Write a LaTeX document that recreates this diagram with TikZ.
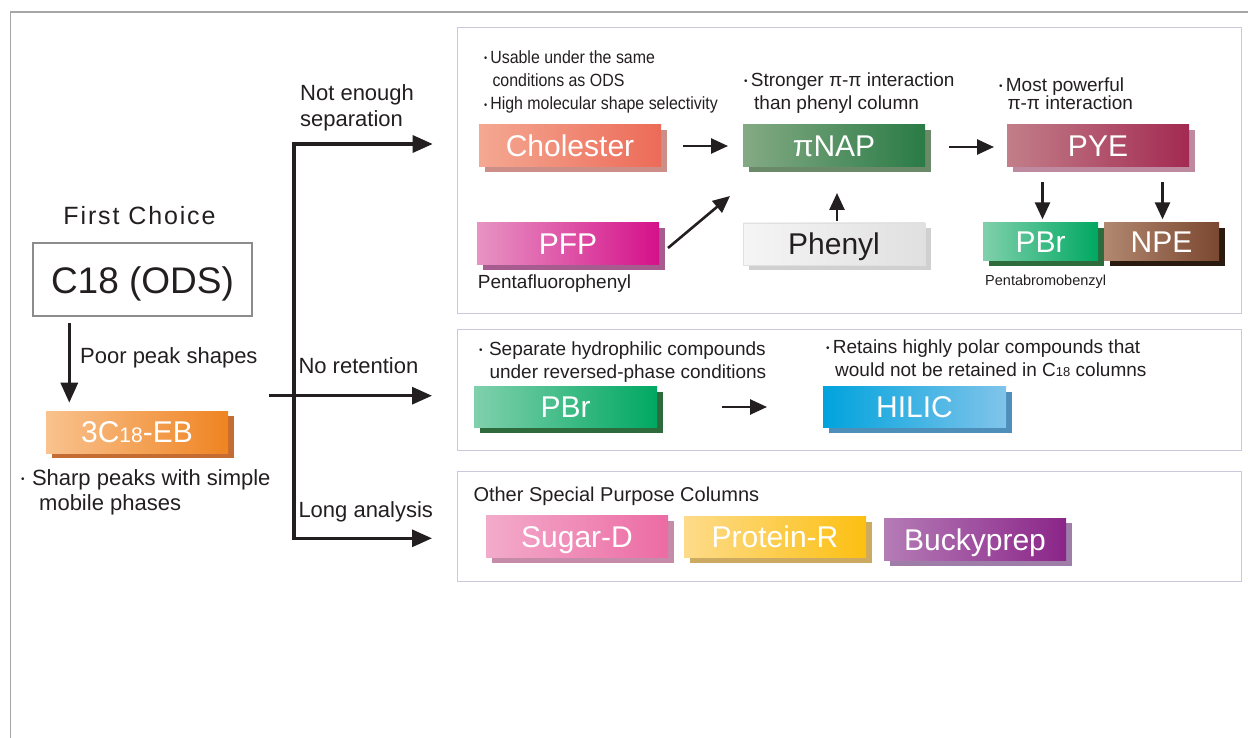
\documentclass[tikz,border=0pt]{standalone}
\usepackage{fontspec}
\setmainfont{Liberation Sans}
\newfontfamily\narrowfont[FakeStretch=0.9]{Liberation Sans}
\usetikzlibrary{arrows.meta,shadows,calc}
\newcommand\bul{\raisebox{0.1em}{\fontsize{10}{10}\selectfont •}}
\definecolor{ink}{HTML}{231F20}
\definecolor{framec}{HTML}{A6A6A6}
\definecolor{panelc}{HTML}{C9C9DC}
\definecolor{boxgray}{HTML}{8C8C8C}
\definecolor{ebL}{HTML}{F9C28E}\definecolor{ebR}{HTML}{EF8422}\definecolor{ebS}{HTML}{C56C32}
\definecolor{chL}{HTML}{F4A892}\definecolor{chR}{HTML}{EC6B58}\definecolor{chS}{HTML}{CB8F88}
\definecolor{piL}{HTML}{84AA84}\definecolor{piR}{HTML}{2A7B45}\definecolor{piS}{HTML}{6A8A6A}
\definecolor{pfL}{HTML}{E794C3}\definecolor{pfR}{HTML}{D5118A}\definecolor{pfS}{HTML}{A65C8E}
\definecolor{phL}{HTML}{F5F5F5}\definecolor{phR}{HTML}{E0E0E0}\definecolor{phS}{HTML}{D0D0D0}
\definecolor{pyL}{HTML}{C27E89}\definecolor{pyR}{HTML}{A32A52}\definecolor{pyS}{HTML}{BD8AA0}
\definecolor{pbL}{HTML}{80D0AC}\definecolor{pbR}{HTML}{00A862}\definecolor{pbS}{HTML}{2D6B3D}
\definecolor{npL}{HTML}{B28870}\definecolor{npR}{HTML}{7B4730}\definecolor{npS}{HTML}{2B1A10}
\definecolor{hiL}{HTML}{00A3DD}\definecolor{hiR}{HTML}{80C4EA}\definecolor{hiS}{HTML}{4D8FB8}
\definecolor{suL}{HTML}{F3ABCB}\definecolor{suR}{HTML}{EC6BA3}\definecolor{suS}{HTML}{C48CA8}
\definecolor{prL}{HTML}{FDDB8A}\definecolor{prR}{HTML}{FCC012}\definecolor{prS}{HTML}{CCAA62}
\definecolor{buL}{HTML}{B47CB6}\definecolor{buR}{HTML}{8B2589}\definecolor{buS}{HTML}{9E7EA8}
\begin{document}
\begin{tikzpicture}[x=1pt,y=-1pt,
  colbox/.style={rectangle, inner sep=0pt, outer sep=0pt, text=white,
    font=\fontsize{30}{30}\selectfont, text height=21.6pt, text depth=0pt},
  sh/.style={drop shadow={shadow xshift=6pt, shadow yshift=-5pt, fill=#1, opacity=1}},
  lbl/.style={anchor=base west, inner sep=0pt, text=ink, font=\fontsize{22}{26}\selectfont},
  ptxt/.style={anchor=base west, inner sep=0pt, text=ink, font=\fontsize{19}{23}\selectfont},
  ntxt/.style={anchor=base west, inner sep=0pt, text=ink, font=\narrowfont\fontsize{17.7}{22}\selectfont},
  bigarr/.style={draw=ink, line width=3.2pt, -{Triangle[length=20pt,width=17pt]}},
  arr/.style={draw=ink, line width=2.6pt, -{Triangle[length=17pt,width=15pt]}},
  panel/.style={draw=panelc, line width=1.3pt, rectangle, inner sep=0pt, anchor=north west},
]
\useasboundingbox (0,0) rectangle (1248,738);
% outer frame
\draw[framec, line width=1.3pt] (1248,12) -- (10.5,12) -- (10.5,738);

% panels
\node[panel, minimum width=784pt, minimum height=286pt] (p1) at (457,27) {};
\node[panel, minimum width=784pt, minimum height=121pt] (p2) at (457,329) {};
\node[panel, minimum width=784pt, minimum height=110pt] (p3) at (457,471) {};

% left part
\node[anchor=base, inner sep=0pt, text=ink, font=\fontsize{25}{25}\selectfont\addfontfeature{LetterSpace=7.5}] (first) at (139.5,225) {First Choice};
\node[draw=boxgray, line width=2pt, minimum width=219pt, minimum height=73pt, inner sep=0pt,
  text=ink, font=\fontsize{37}{37}\selectfont, text height=27pt, text depth=0pt] (c18) at (142.5,279.5) {C18 (ODS)};
\node[colbox, sh=ebS, left color=ebL, right color=ebR, minimum width=182pt, minimum height=42pt] (eb) at (137,432) {3C{\fontsize{21}{21}\selectfont 18}-EB};
\draw[bigarr] ($(c18.south -| eb.north west)+(23.3,6)$) -- ($(eb.north west)+(23.3,-8.3)$);
\node[lbl] (poor) at (80,363.3) {Poor peak shapes};
\node[lbl] (sharp1) at (21,485) {\bul\,\,Sharp peaks with simple};
\node[lbl] (sharp2) at (39,510.7) {mobile phases};

% branches
\coordinate (vtop) at (294,144);
\coordinate (vbot) at (294,538.3);
\coordinate (midstart) at (269,395.7);
\draw[bigarr] (vbot) -- (vtop) -- ($(vtop -| p1.west)+(-24.3,0)$);
\draw[bigarr] (vtop) -- (vbot) -- ($(vbot -| p3.west)+(-25,0)$);
\draw[bigarr] (midstart) -- ($(midstart -| p2.west)+(-25,0)$);
\node[lbl] (ne1) at (300,100.7) {Not enough};
\node[lbl] (ne2) at (300,126.5) {separation};
\node[lbl] (noret) at (298.3,373.3) {No retention};
\node[lbl] (longan) at (298.3,517.3) {Long analysis};

% panel 1
\node[ntxt] (t1a) at (484,63.3) {\bul\,Usable under the same};
\node[ntxt] (t1b) at (492.3,86.7) {conditions as ODS};
\node[ntxt] (t1c) at (484,110) {\bul\,High molecular shape selectivity};
\node[ptxt] (t2a) at (744,86.7) {\bul\,Stronger π-π interaction};
\node[ptxt] (t2b) at (754,110) {than phenyl column};
\node[ptxt] (t3a) at (999,91.7) {\bul\,Most powerful};
\node[ptxt] (t3b) at (1007.3,109.3) {π-π interaction};

\node[colbox, sh=chS, left color=chL, right color=chR, minimum width=182pt, minimum height=42pt] (chol) at (570,146) {Cholester};
\node[colbox, sh=piS, left color=piL, right color=piR, minimum width=182pt, minimum height=42pt] (pinap) at (834,146) {πNAP};
\node[colbox, sh=pyS, left color=pyL, right color=pyR, minimum width=182pt, minimum height=42pt] (pye) at (1098,146) {PYE};
\node[colbox, sh=pfS, left color=pfL, right color=pfR, minimum width=182pt, minimum height=42pt] (pfp) at (568,244) {PFP};
\node[colbox, sh=phS, left color=phL, right color=phR, draw=black!12, line width=0.5pt, text=ink, minimum width=182pt, minimum height=42pt] (phenyl) at (834,244) {Phenyl};
\node[colbox, sh=pbS, left color=pbL, right color=pbR, minimum width=115pt, minimum height=38pt] (pbr1) at (1040.5,242) {PBr};
\node[colbox, sh=npS, left color=npL, right color=npR, minimum width=115pt, minimum height=38pt] (npe) at (1161.5,242) {NPE};
\node[ptxt] (pfl) at (477.7,288.3) {Pentafluorophenyl};
\node[anchor=base west, inner sep=0pt, text=ink, font=\fontsize{14.5}{16}\selectfont] (pbl) at (985,285) {Pentabromobenzyl};

\draw[arr] ($(chol.east)+(22,0)$) -- ($(pinap.west)+(-15,0)$);
\draw[arr] ($(pfp.east)+(9,4)$) -- ($(pinap.south west)+(-13,29)$);
\draw[arr] ($(phenyl.north)+(3,-2)$) -- ($(pinap.south)+(3,26)$);
\draw[arr] ($(pinap.east)+(24,1)$) -- ($(pye.west)+(-13,1)$);
\draw[arr] ($(pye.south -| pbr1.north)+(2,15)$) -- ($(pbr1.north)+(2,-3.7)$);
\draw[arr] ($(pye.south -| npe.north)+(1,15)$) -- ($(npe.north)+(1,-3.7)$);

% panel 2
\node[ptxt] (t4a) at (479,355) {\bul\,\,Separate hydrophilic compounds};
\node[ptxt] (t4b) at (489.3,378) {under reversed-phase conditions};
\node[ptxt] (t5a) at (826,353.3) {\bul\,Retains highly polar compounds that};
\node[ptxt] (t5b) at (835,376) {would not be retained in C{\fontsize{13}{13}\selectfont 18} columns};
\node[colbox, sh=pbS, left color=pbL, right color=pbR, minimum width=183pt, minimum height=41pt] (pbr2) at (565.5,407) {PBr};
\node[colbox, sh=hiS, left color=hiL, right color=hiR, minimum width=183pt, minimum height=41pt] (hilic) at (914.5,407) {HILIC};
\draw[arr] ($(pbr2.east)+(65,0)$) -- ($(hilic.west)+(-56,0)$);

% panel 3
\node[anchor=base west, inner sep=0pt, text=ink, font=\fontsize{20}{24}\selectfont] (other) at (473.3,501.3) {Other Special Purpose Columns};
\node[colbox, sh=suS, left color=suL, right color=suR, minimum width=182pt, minimum height=42pt] (sugar) at (577,536.5) {Sugar-D};
\node[colbox, sh=prS, left color=prL, right color=prR, minimum width=182pt, minimum height=41pt] (protein) at (775,537) {Protein-R};
\node[colbox, sh=buS, left color=buL, right color=buR, minimum width=182pt, minimum height=42.5pt] (bucky) at (975,539.5) {Buckyprep};
\end{tikzpicture}
\end{document}
